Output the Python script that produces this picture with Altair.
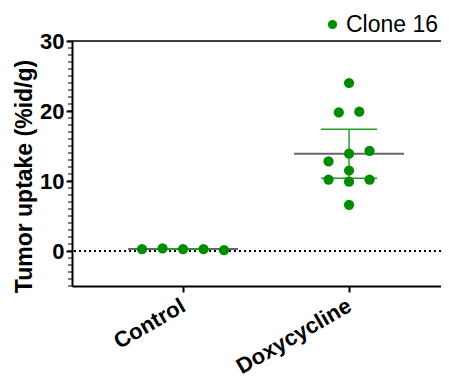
import math
import altair as alt
import pandas as pd

groups = ["Control", "Doxycycline"]
control_vals = [0.28, 0.38, 0.28, 0.28, 0.14]
doxy_vals = [24.0, 19.8, 19.9, 13.9, 12.8, 14.3, 11.5, 9.9, 10.2, 10.2, 6.6]
means = [0.3, 13.9]
err_low = [0.3, 10.4]
err_high = [0.3, 17.4]
series_name = "Clone 16"
y_ticks = [0, 10, 20, 30]

GREEN = "#008c00"
SLOT = 0.1235       # column spacing in group units
ROW = 1.6           # row bin height (data units)
ROW_BASE = 9.55
MEAN_HALF = 0.331
CAP_HALF = 0.169


def swarm(vals):
    bins = {}
    for i, v in enumerate(vals):
        bins.setdefault(math.floor((v - ROW_BASE) / ROW), []).append(i)
    slots = [0.0] * len(vals)
    for r in bins.values():
        n = len(r)
        if n % 2:
            seq = [0]
            for k in range(1, n):
                seq.append(-((k + 1) // 2) if k % 2 else (k // 2))
        else:
            seq = []
            for k in range(n):
                m = k // 2 + 0.5
                seq.append(-m if k % 2 == 0 else m)
        for i, s in zip(r, seq):
            slots[i] = s
    return slots


rows = []
for gi, vals in enumerate([control_vals, doxy_vals]):
    for v, s in zip(vals, swarm(vals)):
        rows.append({"x": gi + s * SLOT, "y": v, "series": series_name})
pts = pd.DataFrame(rows)

summ = pd.DataFrame({
    "g": [0, 1],
    "mean": means,
    "lo": err_low,
    "hi": err_high,
})
summ["m1"] = summ["g"] - MEAN_HALF
summ["m2"] = summ["g"] + MEAN_HALF
summ["c1"] = summ["g"] - CAP_HALF
summ["c2"] = summ["g"] + CAP_HALF

minor = pd.DataFrame({"v": list(range(-5, 31))})

xscale = alt.Scale(domain=[-0.669, 1.554], nice=False, zero=False)
yscale = alt.Scale(domain=[-5, 30], nice=False, zero=False)

label_expr = "datum.value == 0 ? '%s' : '%s'" % (groups[0], groups[1])

xaxis = alt.Axis(values=[0, 1], labelExpr=label_expr, labelAngle=330,
                 labelAlign="right", labelBaseline="top",
                 labelFont="Liberation Sans", labelFontSize=22, labelFontWeight="bold",
                 labelColor="black", domainColor="black", domainWidth=2,
                 tickColor="black", tickWidth=2, tickSize=6, labelPadding=3,
                 labelOffset=-5, grid=False, title=None)
yaxis = alt.Axis(values=y_ticks, labelFont="Liberation Sans", labelFontSize=22,
                 labelFontWeight="bold", labelColor="black", domainColor="black",
                 domainWidth=2, tickColor="black", tickWidth=2, tickSize=6,
                 labelPadding=2, grid=False, title="Tumor uptake (%id/g)",
                 titleFont="Liberation Sans", titleFontSize=23, titleFontWeight="bold",
                 titleColor="black", titleX=-48, titleY=135, titleAngle=270,
                 titleAlign="center", titleBaseline="middle")

base_x = alt.X("x:Q", scale=xscale, axis=xaxis)

zero_line = alt.Chart(pd.DataFrame({"y": [0]})).mark_rule(
    color="black", strokeWidth=2, strokeDash=[2, 3]).encode(
    y=alt.Y("y:Q", scale=yscale, axis=yaxis))

top_line = alt.Chart(pd.DataFrame({"y": [30]})).mark_rule(
    color="black", strokeWidth=1.5).encode(y=alt.Y("y:Q", scale=yscale))

minor_ticks = alt.Chart(minor).mark_rule(color="black", strokeWidth=1).encode(
    y=alt.Y("v:Q", scale=yscale), x=alt.value(-4), x2=alt.value(0))

mean_lines = alt.Chart(summ).mark_rule(color="#666666", strokeWidth=2).encode(
    x=alt.X("m1:Q", scale=xscale, axis=xaxis), x2="m2:Q",
    y=alt.Y("mean:Q", scale=yscale))

err_v = alt.Chart(summ).mark_rule(color="#2a9a2a", strokeWidth=1.5).encode(
    x=alt.X("g:Q", scale=xscale), y=alt.Y("lo:Q", scale=yscale), y2="hi:Q")
cap_lo = alt.Chart(summ).mark_rule(color="#2a9a2a", strokeWidth=1.5).encode(
    x=alt.X("c1:Q", scale=xscale), x2="c2:Q", y=alt.Y("lo:Q", scale=yscale))
cap_hi = alt.Chart(summ).mark_rule(color="#2a9a2a", strokeWidth=1.5).encode(
    x=alt.X("c1:Q", scale=xscale), x2="c2:Q", y=alt.Y("hi:Q", scale=yscale))

points = alt.Chart(pts).mark_circle(size=105, opacity=1).encode(
    x=base_x,
    y=alt.Y("y:Q", scale=yscale),
    color=alt.Color("series:N", scale=alt.Scale(range=[GREEN]),
                    legend=alt.Legend(title=None, orient="none", legendX=249, legendY=-28,
                                      labelFont="Liberation Sans", labelFontSize=23,
                                      labelColor="black", symbolSize=85,
                                      symbolType="circle", labelOffset=2)))

chart = alt.layer(zero_line, top_line, minor_ticks, mean_lines, err_v, cap_lo, cap_hi,
                  points).properties(
    width=369, height=245,
    autosize=alt.AutoSizeParams(type="none"),
    padding={"left": 64, "top": 33, "right": 0, "bottom": 95},
).configure_view(stroke=None).configure(background="white")

chart.save("out.html", embed_options={"renderer": "svg", "actions": False})
